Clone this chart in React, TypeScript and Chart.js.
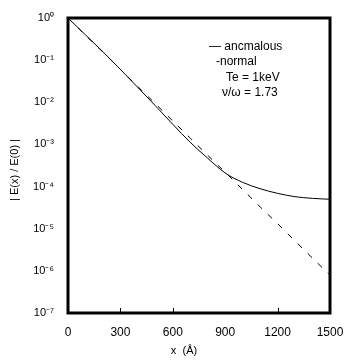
import React, { useEffect, useRef } from "react";
import { Chart, registerables } from "chart.js";

Chart.register(...registerables);

const xValues = [0, 100, 200, 300, 400, 500, 600, 700, 800, 900, 1000, 1100, 1200, 1300, 1400, 1500];
const anomalous = [1, 0.398, 0.158, 0.0603, 0.0224, 8.3e-3, 3.0e-3, 1.12e-3, 4.7e-4, 2.1e-4, 1.26e-4, 8.9e-5, 6.9e-5, 5.75e-5, 5.25e-5, 5.0e-5];
const normal = [1, 0.389, 0.155, 0.0603, 0.0234, 9.3e-3, 3.6e-3, 1.41e-3, 5.5e-4, 2.19e-4, 8.5e-5, 3.3e-5, 1.32e-5, 5.1e-6, 2.0e-6, 7.9e-7];
const xTicks = [0, 300, 600, 900, 1200, 1500];
const xTickLabels = ["0", "300", "600", "900", "1200", "1500"];
const yTicks = [1, 1e-1, 1e-2, 1e-3, 1e-4, 1e-5, 1e-6, 1e-7];
const yTickLabels = ["10⁰", "10⁻¹", "10⁻²", "10⁻³", "10⁻⁴", "10⁻⁵", "10⁻⁶", "10⁻⁷"];
const innerTicks = [300, 600, 1200];
const legendLines = ["— ancmalous", "-normal", "Te = 1keV", "ν/ω = 1.73"];

const FONT = "'Liberation Sans', Arial, sans-serif";

const framePlugin = {
  id: "frame",
  afterDraw(chart: any) {
    const { ctx, chartArea } = chart;
    const { left, right, top, bottom } = chartArea;
    ctx.save();
    ctx.strokeStyle = "#000";
    ctx.lineWidth = 3;
    ctx.strokeRect(left, top, right - left, bottom - top);
    ctx.lineWidth = 1;
    const xs = chart.scales.x;
    innerTicks.forEach((v) => {
      const px = Math.round(xs.getPixelForValue(v)) + 0.5;
      ctx.beginPath();
      ctx.moveTo(px, bottom - 1);
      ctx.lineTo(px, bottom - 5);
      ctx.stroke();
    });
    ctx.fillStyle = "#000";
    ctx.font = `12px ${FONT}`;
    ctx.textBaseline = "middle";
    ctx.textAlign = "left";
    ctx.fillText(legendLines[0], 209, 47);
    ctx.fillText(legendLines[1], 216, 62);
    ctx.fillText(legendLines[2], 226, 78);
    ctx.fillText(legendLines[3], 222, 93);
    ctx.font = `11px ${FONT}`;
    ctx.textAlign = "center";
    ctx.fillText("x  (Å)", 184, 351);
    ctx.translate(15, 170);
    ctx.rotate(-Math.PI / 2);
    ctx.fillText("| E(x) / E(0) |", 0, 0);
    ctx.restore();
  },
};

export default function App() {
  const ref = useRef<HTMLCanvasElement>(null);
  useEffect(() => {
    document.body.style.margin = "0";
    const chart = new Chart(ref.current!, {
      type: "line",
      data: {
        datasets: [
          {
            label: "anomalous",
            data: xValues.map((x, i) => ({ x, y: anomalous[i] })),
            borderColor: "#000",
            borderWidth: 1,
            pointRadius: 0,
            cubicInterpolationMode: "monotone",
            fill: false,
          },
          {
            label: "normal",
            data: xValues.map((x, i) => ({ x, y: normal[i] })),
            borderColor: "#000",
            borderWidth: 1,
            borderDash: [6, 8],
            pointRadius: 0,
            fill: false,
          },
        ],
      },
      options: {
        animation: false,
        responsive: false,
        layout: { padding: { left: 8, right: 15, top: 18, bottom: 0 } },
        plugins: { legend: { display: false }, tooltip: { enabled: false } },
        scales: {
          x: {
            type: "linear",
            min: 0,
            max: 1500,
            grid: { display: false },
            border: { display: false },
            afterBuildTicks: (s: any) => {
              s.ticks = xTicks.map((v) => ({ value: v }));
            },
            afterFit: (s: any) => {
              s.height = 48;
              s.paddingLeft = 0;
              s.paddingRight = 0;
            },
            ticks: {
              color: "#000",
              font: { family: FONT, size: 12 },
              padding: 4,
              maxRotation: 0,
              autoSkip: false,
              callback: (v: any) => {
                const i = xTicks.indexOf(Number(v));
                return i >= 0 ? xTickLabels[i] : "";
              },
            },
          },
          y: {
            type: "logarithmic",
            min: 1e-7,
            max: 1,
            grid: { display: false },
            border: { display: false },
            afterBuildTicks: (s: any) => {
              s.ticks = yTicks.map((v) => ({ value: v }));
            },
            afterFit: (s: any) => {
              s.width = 60;
              s.paddingTop = 0;
              s.paddingBottom = 0;
            },
            ticks: {
              color: "#000",
              font: { family: FONT, size: 11 },
              padding: 6,
              autoSkip: false,
              callback: (v: any) => {
                const i = yTicks.findIndex((t) => Math.abs(Math.log10(t) - Math.log10(v)) < 1e-6);
                return i >= 0 ? yTickLabels[i] : "";
              },
            },
          },
        },
      },
      plugins: [framePlugin],
    } as any);
    return () => chart.destroy();
  }, []);
  return <canvas ref={ref} width={345} height={361} style={{ display: "block" }} />;
}
